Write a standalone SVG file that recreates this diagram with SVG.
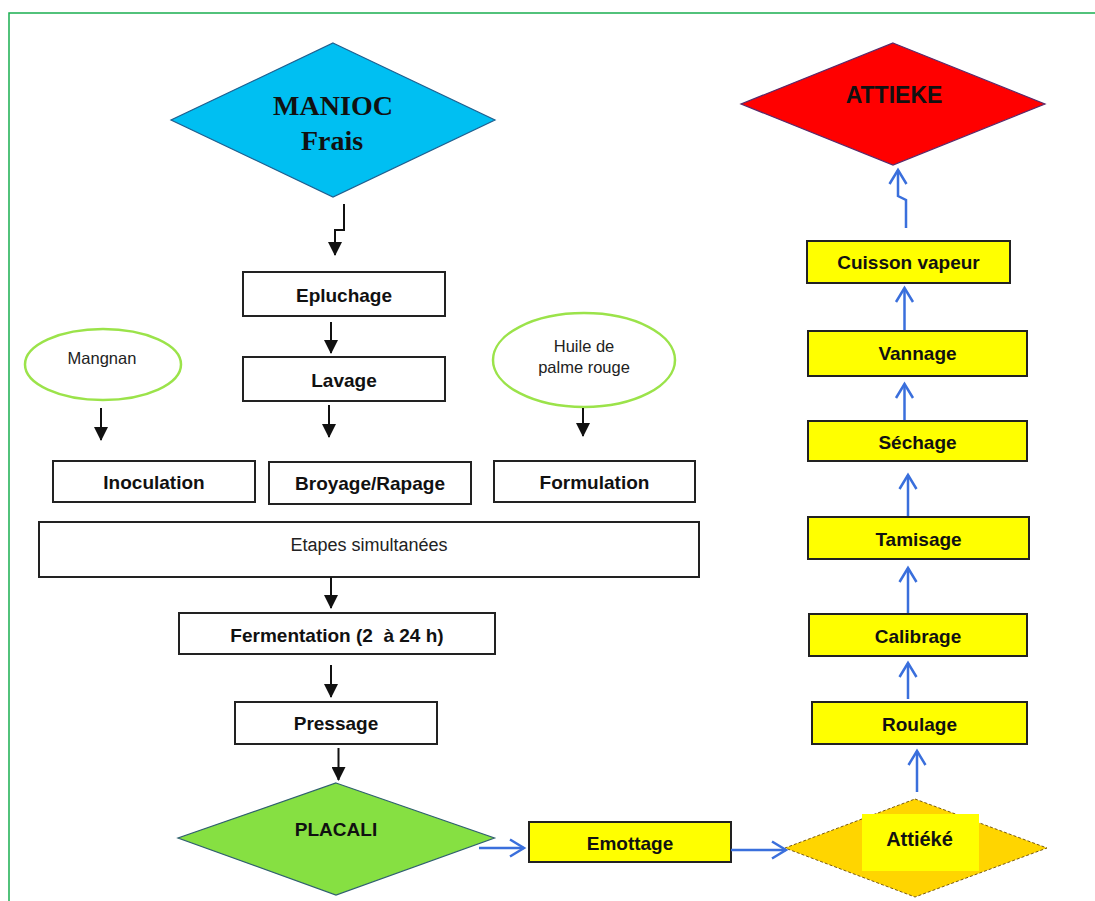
<svg xmlns="http://www.w3.org/2000/svg" width="1095" height="901" viewBox="0 0 1095 901">
<style>
.box{fill:#fff;stroke:#222;stroke-width:2}
.ybox{fill:#ffff00;stroke:#222;stroke-width:2}
.lbl{font-family:"Liberation Sans",Arial,sans-serif;font-weight:bold;font-size:19px;text-anchor:middle;fill:#111}
.reg{font-family:"Liberation Sans",Arial,sans-serif;font-size:16.5px;text-anchor:middle;fill:#222}
.ell{fill:#fff;stroke:#9be34a;stroke-width:2.5}
.blk{fill:none;stroke:#111;stroke-width:2;marker-end:url(#ah)}
.blu{fill:none;stroke:#3a6fdc;stroke-width:2.5;marker-end:url(#bh)}
</style>
<defs>
<marker id="ah" markerUnits="userSpaceOnUse" markerWidth="14" markerHeight="14" viewBox="0 0 14 14" refX="13" refY="7" orient="auto"><path d="M0,0 L14,7 L0,14 z" fill="#111"/></marker>
<marker id="bh" markerUnits="userSpaceOnUse" markerWidth="20" markerHeight="22" viewBox="-2 -2 20 22" refX="14" refY="8.5" orient="auto"><path d="M0,0 L14,8.5 L0,17" fill="none" stroke="#3a6fdc" stroke-width="2.5"/></marker>
</defs>
<rect width="1095" height="901" fill="#fff"/>
<path d="M9,901 V13 H1095" fill="none" stroke="#1aaf50" stroke-width="1.5"/>

<g id="manioc"><polygon points="333,43 495,120 333,197 171,120" fill="#00bff2" stroke="#1f5f8f" stroke-width="1.2"/>
<text x="333" y="115" font-family="'Liberation Serif','Times New Roman',serif" font-weight="bold" font-size="28" text-anchor="middle" fill="#111">MANIOC</text>
<text x="332" y="150" font-family="'Liberation Serif','Times New Roman',serif" font-weight="bold" font-size="28" text-anchor="middle" fill="#111">Frais</text></g>

<g id="epluchage"><rect class="box" x="243" y="272" width="202" height="44"/><text class="lbl" x="344" y="301.5">Epluchage</text></g>
<g id="lavage"><rect class="box" x="243" y="357" width="202" height="44"/><text class="lbl" x="344" y="386.5">Lavage</text></g>
<g id="mangnan"><ellipse class="ell" cx="103" cy="364.5" rx="78" ry="35.5"/><text class="reg" x="102" y="364">Mangnan</text></g>
<g id="huile"><ellipse class="ell" cx="584" cy="360" rx="91" ry="47"/><text class="reg" x="584" y="352">Huile de</text><text class="reg" x="584" y="373">palme rouge</text></g>
<g id="inoculation"><rect class="box" x="53" y="461" width="202" height="41"/><text class="lbl" x="154" y="489">Inoculation</text></g>
<g id="broyage"><rect class="box" x="269" y="462" width="202" height="42"/><text class="lbl" x="370" y="490">Broyage/Rapage</text></g>
<g id="formulation"><rect class="box" x="494" y="461" width="201" height="41"/><text class="lbl" x="594.5" y="489">Formulation</text></g>
<g id="etapes"><rect class="box" x="39" y="522" width="660" height="55"/><text x="369" y="551" font-family="'Liberation Sans',Arial,sans-serif" font-size="18" text-anchor="middle" fill="#222">Etapes simultanées</text></g>
<g id="fermentation"><rect class="box" x="179" y="613" width="316" height="41"/><text class="lbl" x="337" y="641.5" style="white-space:pre">Fermentation (2  à 24 h)</text></g>
<g id="pressage"><rect class="box" x="235" y="702" width="202" height="42"/><text class="lbl" x="336" y="729.5">Pressage</text></g>
<g id="placali"><polygon points="336,783 494.5,838 336,895 178,838" fill="#86e042" stroke="#2f5f6f" stroke-width="1.2"/><text class="lbl" x="336" y="836">PLACALI</text></g>
<g id="emottage"><rect class="ybox" x="529" y="822" width="202" height="40"/><text class="lbl" x="630" y="850">Emottage</text></g>
<g id="attieke-d"><polygon points="915,799 1047,848 915,897 785,848" fill="#ffd500" stroke="#7a5a10" stroke-width="1" stroke-dasharray="3 2"/><rect x="862" y="814" width="117" height="57" fill="#ffff00"/><text class="lbl" x="919.5" y="846" font-size="20" style="font-size:20px">Attiéké</text></g>
<g id="roulage"><rect class="ybox" x="812" y="702" width="215" height="42"/><text class="lbl" x="919.5" y="730.5">Roulage</text></g>
<g id="calibrage"><rect class="ybox" x="809" y="614" width="218" height="42"/><text class="lbl" x="918" y="642.5">Calibrage</text></g>
<g id="tamisage"><rect class="ybox" x="808" y="517" width="221" height="42"/><text class="lbl" x="918.5" y="545.5">Tamisage</text></g>
<g id="sechage"><rect class="ybox" x="808" y="421" width="219" height="40"/><text class="lbl" x="917.5" y="448.5">Séchage</text></g>
<g id="vannage"><rect class="ybox" x="808" y="331" width="219" height="45"/><text class="lbl" x="917.5" y="360">Vannage</text></g>
<g id="cuisson"><rect class="ybox" x="807" y="241" width="203" height="42"/><text class="lbl" x="908.5" y="269">Cuisson vapeur</text></g>
<g id="attieke-final"><polygon points="893,43 1045,104 893,165 741,104" fill="#ff0000" stroke="#5a2a6a" stroke-width="1.2"/><text x="894" y="103" font-family="'Liberation Sans',Arial,sans-serif" font-weight="bold" font-size="23" text-anchor="middle" fill="#111">ATTIEKE</text></g>

<g id="connectors">
<path class="blk" d="M344,204 V230 H335 V255"/>
<path class="blk" d="M331,322 V353"/>
<path class="blk" d="M329,405 V437"/>
<path class="blk" d="M101,408 V440"/>
<path class="blk" d="M583,408 V436"/>
<path class="blk" d="M331,577 V608"/>
<path class="blk" d="M331,665 V697"/>
<path class="blk" d="M338.5,748 V780"/>
<path class="blu" d="M479,848 H524"/>
<path class="blu" d="M731,850 H786"/>
<path class="blu" d="M917,792 V751"/>
<path class="blu" d="M908,699 V663"/>
<path class="blu" d="M908,613 V568"/>
<path class="blu" d="M908,516 V475"/>
<path class="blu" d="M904.5,420 V384"/>
<path class="blu" d="M904.5,330 V288"/>
<path class="blu" d="M906,228 V200 L898,196 V170"/>
</g>
</svg>
